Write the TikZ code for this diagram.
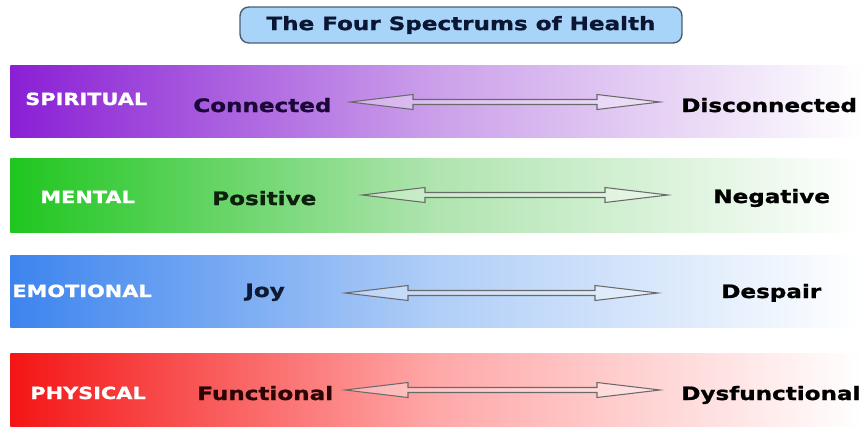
\documentclass[tikz,border=0pt]{standalone}
\usepackage{fontspec}
\usepackage{tikz}
\usetikzlibrary{calc}
\newfontfamily\heavyfont{DejaVu Sans}[FakeStretch=1.25,
    BoldFeatures={FakeBold=1.2}]
\definecolor{spiritfill}{HTML}{8A1FD5}
\definecolor{spiritmid}{HTML}{CBA0EA}
\definecolor{spirittext}{HTML}{1A0838}
\definecolor{mentalfill}{HTML}{1FC61F}
\definecolor{mentalmid}{HTML}{B0E4B0}
\definecolor{mentaltext}{HTML}{0D1F0D}
\definecolor{emofill}{HTML}{3D84EE}
\definecolor{emomid}{HTML}{B0CEF7}
\definecolor{emotext}{HTML}{0E1A33}
\definecolor{physfill}{HTML}{F41515}
\definecolor{physmid}{HTML}{FFA8A8}
\definecolor{phystext}{HTML}{2B0505}
\definecolor{titlefill}{HTML}{A8D4FA}
\definecolor{titlebdr}{HTML}{4C5C70}
\definecolor{titletext}{HTML}{0B1633}
\definecolor{arrgrey}{HTML}{6A6A6A}
\tikzset{
    band/.style={rectangle, anchor=north west, inner sep=0pt,
        minimum width=17.04cm, minimum height=1.44cm, right color=white},
    healthlbl/.style={anchor=base west, inner sep=0pt, text=white,
        font=\heavyfont\bfseries\fontsize{9.5}{11}\selectfont},
    pole/.style={anchor=base west, inner sep=0pt,
        font=\heavyfont\bfseries\fontsize{10.5}{12}\selectfont},
    spectrum/.style={draw=arrgrey, line width=0.6pt, line join=miter,
        fill=white, fill opacity=0.35},
    titlebox/.style={rectangle, rounded corners=5pt, draw=titlebdr,
        line width=0.8pt, fill=titlefill, text=titletext,
        minimum width=8.84cm, minimum height=0.72cm,
        font=\heavyfont\bfseries\fontsize{10.5}{12}\selectfont},
}
\begin{document}
\begin{tikzpicture}[x=0.02cm, y=-0.02cm]
\useasboundingbox (0,0) rectangle (862,426);

% ================================================================
%  TITLE
% ================================================================

\node[titlebox] (title) at (461, 25) {The Four Spectrums of Health};

% ================================================================
%  BANDS
% ================================================================

\node[band, left color=spiritfill, middle color=spiritmid] (spiritband) at (10, 65) {};
\node[band, left color=mentalfill, middle color=mentalmid,
      minimum height=1.48cm] (mentalband) at (10, 158) {};
\node[band, left color=emofill, middle color=emomid] (emoband) at (10, 255) {};
\node[band, left color=physfill, middle color=physmid,
      minimum height=1.46cm] (physband) at (10, 353) {};

% ================================================================
%  SPIRITUAL
% ================================================================

\node[healthlbl] (spirit) at (25, 105) {SPIRITUAL};
\node[pole, text=spirittext] (connected) at (193, 112) {Connected};
\node[pole] (disconnected) at (681, 112) {Disconnected};

\coordinate (spiritL) at (350, 102);
\coordinate (spiritR) at (660, 102);
\draw[spectrum] (spiritL) -- ++(63,-7.5) -- ++(0,5)
    -- ($(spiritR)+(-63,-2.5)$) -- ++(0,-5) -- (spiritR)
    -- ++(-63,7.5) -- ++(0,-5)
    -- ($(spiritL)+(63,2.5)$) -- ++(0,5) -- cycle;

% ================================================================
%  MENTAL
% ================================================================

\node[healthlbl] (mental) at (40, 203) {MENTAL};
\node[pole, text=mentaltext] (positive) at (212, 205) {Positive};
\node[pole] (negative) at (713, 203) {Negative};

\coordinate (mentalL) at (362, 195);
\coordinate (mentalR) at (668, 195);
\draw[spectrum] (mentalL) -- ++(63,-7.5) -- ++(0,5)
    -- ($(mentalR)+(-63,-2.5)$) -- ++(0,-5) -- (mentalR)
    -- ++(-63,7.5) -- ++(0,-5)
    -- ($(mentalL)+(63,2.5)$) -- ++(0,5) -- cycle;

% ================================================================
%  EMOTIONAL
% ================================================================

\node[healthlbl] (emotional) at (12, 297) {EMOTIONAL};
\node[pole, text=emotext] (joy) at (245, 297) {Joy};
\node[pole] (despair) at (721, 298) {Despair};

\coordinate (emoL) at (345, 293);
\coordinate (emoR) at (658, 293);
\draw[spectrum] (emoL) -- ++(63,-7.5) -- ++(0,5)
    -- ($(emoR)+(-63,-2.5)$) -- ++(0,-5) -- (emoR)
    -- ++(-63,7.5) -- ++(0,-5)
    -- ($(emoL)+(63,2.5)$) -- ++(0,5) -- cycle;

% ================================================================
%  PHYSICAL
% ================================================================

\node[healthlbl] (physical) at (30, 399) {PHYSICAL};
\node[pole, text=phystext] (functional) at (197, 400) {Functional};
\node[pole] (dysfunctional) at (681, 400) {Dysfunctional};

\coordinate (physL) at (345, 390);
\coordinate (physR) at (660, 390);
\draw[spectrum] (physL) -- ++(63,-7.5) -- ++(0,5)
    -- ($(physR)+(-63,-2.5)$) -- ++(0,-5) -- (physR)
    -- ++(-63,7.5) -- ++(0,-5)
    -- ($(physL)+(63,2.5)$) -- ++(0,5) -- cycle;

\end{tikzpicture}
\end{document}
